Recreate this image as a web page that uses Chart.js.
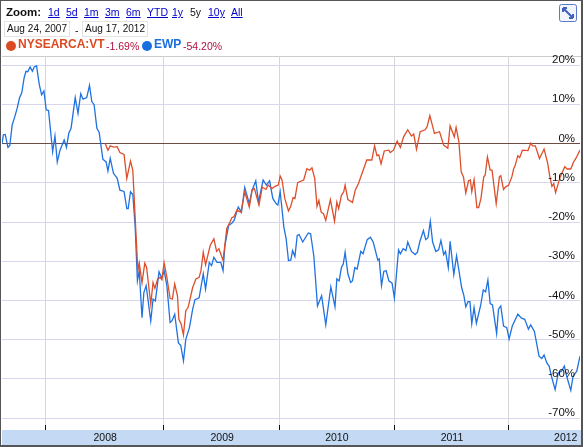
<!DOCTYPE html>
<html lang="en">
<head>
<meta charset="UTF-8">
<title>NYSEARCA:VT vs EWP</title>
<script src="https://cdn.jsdelivr.net/npm/chart.js@4"></script>
<style>
  html, body { margin:0; padding:0; background:#fff; width:584px; height:447px; overflow:hidden; }
  body { position:relative; font-family:"Liberation Sans", Arial, sans-serif; color:#111; }
  #frame { position:absolute; left:0; top:0; width:580px; height:444px; border:solid #555; border-width:1px 2px 2px 1px; }
  #topline { position:absolute; left:2px; top:56px; width:579px; height:1px; background:#ccc; }
  #band { position:absolute; left:2px; top:430px; width:579px; height:15px; background:#c4d9f3; }
  #rocCanvas { position:absolute; left:0; top:0; }
  .t { position:absolute; white-space:nowrap; line-height:1; }
  .z { top:7px; font-size:10.5px; color:#00c; text-decoration:underline; }
  .box { top:21px; width:61px; height:14px; border:1px solid #e4e4e4; font-size:10px; line-height:14px; padding:0 1px 0 2px; letter-spacing:.05px; }
  .dot { position:absolute; width:10px; height:10px; border-radius:50%; top:41px; }
  .nm { top:38px; font-size:12px; font-weight:bold; }
  .ch { top:41px; font-size:10.5px; color:#b0103c; }
  svg { position:absolute; left:559px; top:4px; }
</style>
</head>
<body>
<div id="frame"></div>
<div id="topline"></div>
<div id="band"></div>
<canvas id="rocCanvas" width="584" height="447"></canvas>

<span class="t" style="left:6px;top:7px;font-size:11.5px;font-weight:bold">Zoom:</span>
<span class="t z" style="left:48px">1d</span>
<span class="t z" style="left:66px">5d</span>
<span class="t z" style="left:84px">1m</span>
<span class="t z" style="left:105px">3m</span>
<span class="t z" style="left:126px">6m</span>
<span class="t z" style="left:147px">YTD</span>
<span class="t z" style="left:172px">1y</span>
<span class="t z" style="left:190px;color:#111;text-decoration:none">5y</span>
<span class="t z" style="left:208px">10y</span>
<span class="t z" style="left:231px">All</span>
<span class="t box" style="left:4px">Aug 24, 2007</span>
<span class="t" style="left:75px;top:25px;font-size:10.5px">-</span>
<span class="t box" style="left:82px">Aug 17, 2012</span>
<span class="dot" style="left:6px;background:#dc4a22"></span>
<span class="t nm" style="left:18px;color:#dc4a22">NYSEARCA:VT</span>
<span class="t ch" style="left:106px">-1.69%</span>
<span class="dot" style="left:142px;background:#1a6fe0"></span>
<span class="t nm" style="left:154px;color:#1a6fe0">EWP</span>
<span class="t ch" style="left:183px">-54.20%</span>
<svg width="18" height="18" viewBox="0 0 18 18">
  <rect x="0.5" y="0.5" width="17" height="17" rx="2" fill="#f2f5fc" stroke="#5a78cc"/>
  <path d="M4 4 L14 14 M4 4 h4 M4 4 v4 M14 14 h-4 M14 14 v-4" stroke="#3f62bd" stroke-width="2" fill="none"/>
</svg>

<script>
const vtDays = [224,230,235,243,250,256,265,271,279,284,290,295,298,304,310,314,323,328,332,338,343,347,352,358,365,370,375,381,384,389,394,399,404,414,421,428,432,437,442,452,460,466,471,480,488,495,499,504,510,519,527,537,543,548,558,565,573,578,586,593,600,604,608,614,622,627,632,636,642,655,662,668,673,679,684,688,693,698,703,713,722,727,731,737,742,745,751,761,767,774,782,792,803,809,814,818,823,830,840,843,850,858,865,872,881,889,894,900,908,919,923,929,939,950,959,968,973,982,986,992,997,1002,1007,1013,1017,1020,1025,1031,1035,1040,1046,1049,1054,1060,1064,1073,1080,1083,1089,1093,1100,1107,1111,1114,1120,1124,1130,1142,1148,1152,1158,1167,1177,1185,1189,1194,1198,1202,1212,1222,1227,1235,1241,1246,1255];
const vtValues = [0,-1.7,-0.6,-0.9,-0.8,-2.3,-2.8,-8.9,-4.5,-6.8,-20.9,-32.4,-30.4,-35.5,-30.5,-31.6,-40.9,-35.4,-36.9,-34.5,-34.1,-34.7,-30.4,-34.1,-39.5,-39.6,-35.8,-38.8,-44.8,-46,-48.8,-42.6,-41.8,-36.7,-34.5,-34.1,-32.4,-27.7,-30.9,-26,-24.3,-27.5,-26.8,-29.8,-21.7,-20,-18.9,-18.6,-17,-17.5,-12.3,-16.2,-11.9,-11.5,-15.7,-11.1,-11.7,-10.6,-11.5,-10.9,-10.6,-8.3,-9.3,-14,-17.2,-16,-13.8,-14,-10,-9.3,-6.4,-6.8,-6.2,-8.9,-16,-14.5,-17.5,-17.9,-19.6,-14.3,-19.8,-14.9,-16.6,-13.2,-12.3,-10.6,-14.3,-15,-11.9,-10.2,-7.5,-4.2,-4.2,-0.6,-3.1,-2.9,-5.2,-1.9,-1.7,-2.3,-1.7,0.6,-1,1.7,3.5,1.9,2.4,-1.5,3,3.5,4.3,7.1,2.6,3,-0.4,-1.2,4.5,1.7,4.1,0.5,-7.2,-8.5,-12.6,-9.5,-9.3,-12.3,-9.2,-16.3,-16.3,-14,-8.5,-8.1,-3.4,-6.8,-6.8,-15.3,-8.5,-8.2,-11.7,-11.1,-10.6,-8.5,-6.4,-5.7,-3.1,-3.6,-1.7,-1.8,0.1,-0.6,-0.6,-3.8,-1.4,-5.1,-8.1,-10.9,-10.2,-12.5,-8.5,-5.9,-6.5,-6.5,-4.7,-3.8,-1.69];
const ewpDays = [0,3,7,13,17,22,28,33,38,43,48,52,56,61,66,70,75,81,86,91,96,101,110,115,120,126,135,140,145,150,159,165,171,176,184,190,195,200,206,211,219,226,230,235,242,250,256,265,271,274,279,284,289,294,298,304,308,313,323,328,333,341,347,352,358,365,369,375,383,388,394,399,407,414,419,428,437,442,450,455,460,467,475,480,484,492,499,504,513,520,527,537,543,551,557,567,574,581,588,595,599,604,612,617,622,627,631,636,641,645,653,665,670,677,685,694,703,714,723,727,732,737,741,745,751,757,761,766,771,779,784,793,800,806,816,819,824,829,834,840,847,852,861,865,871,877,881,889,897,902,907,915,920,925,930,935,942,948,953,959,963,969,973,981,987,998,1003,1007,1012,1016,1020,1025,1030,1039,1045,1050,1055,1060,1065,1074,1078,1083,1089,1096,1101,1108,1120,1128,1135,1143,1148,1156,1166,1172,1177,1183,1188,1193,1201,1208,1215,1221,1227,1235,1240,1248,1255];
const ewpValues = [0,2.2,2.3,-1,-0.5,4.7,6.9,9,11.6,12.9,16.7,18.4,18.3,19.5,18.4,19.5,19.8,15,12.4,13.4,8.6,8.4,-2.1,1.9,-4.7,-1.7,0.9,-1,2.6,3.9,11.7,7.7,12.7,11.3,11.7,14.8,10.7,9.9,3.9,2.8,-4,-4.7,-7,-3.8,-7.6,-8.8,-11.9,-12.2,-16.6,-16.6,-12.3,-13,-20.9,-35,-32.4,-44.4,-38,-36.2,-45.2,-39.6,-40.1,-32.7,-34.4,-32.4,-36.2,-45.6,-45.2,-43.5,-50.8,-51.4,-55.4,-49.9,-46.9,-42.2,-39.8,-39.3,-33.2,-37.1,-30.3,-31.1,-29,-30.3,-30.3,-32.4,-26,-20.9,-20.3,-19.6,-16.2,-17.5,-11.2,-15.3,-11.9,-9.5,-14.9,-9.3,-10.6,-9.5,-14,-15.3,-15.7,-12.3,-21.3,-24.3,-29.8,-29.7,-27.3,-28.8,-23.4,-23.2,-25.1,-22.8,-23,-28.6,-41.4,-38.8,-46.2,-36.5,-41.6,-34.5,-35,-31.6,-30.7,-27.7,-33.2,-35.4,-35,-31.6,-32,-27.5,-28.1,-24.5,-23.9,-25.1,-29.7,-29.4,-36.2,-32.6,-32.4,-35,-35.6,-39.4,-27.1,-28.1,-26.8,-27.3,-25.1,-27.5,-28.3,-27.7,-25.1,-22.2,-24.5,-24,-19.8,-25.1,-27.5,-27.1,-24.7,-28.3,-27.5,-31.6,-24.9,-33.4,-28.6,-36.7,-38.8,-41.6,-40.3,-40.3,-45.9,-41.8,-45.8,-41.4,-37.3,-37.8,-34.8,-40.8,-41.1,-48.4,-42.2,-41.4,-46.5,-46.9,-49.8,-46.5,-43.5,-44.5,-44.8,-47.3,-46.2,-47.9,-54.2,-54.8,-53.9,-55.9,-56.7,-59.3,-62.7,-58.4,-58,-56.7,-59.7,-62.9,-59.3,-58,-54.2];
const yTicks = [20,10,0,-10,-20,-30,-40,-50,-60,-70];
const yearStarts = [94,350,602,852,1099];
const yearLabels = ['2008','2009','2010','2011','2012'];
const yearLabelDays = [224,478,727,977,1224];

const toPoints = (xs, ys) => xs.map((x, i) => ({ x, y: ys[i] }));

// short black marks at the foot of each year line
const yearMarks = {
  id: 'yearMarks',
  afterDatasetsDraw(chart) {
    const { ctx, scales, chartArea } = chart;
    ctx.save();
    ctx.strokeStyle = '#111';
    ctx.lineWidth = 1;
    yearStarts.forEach(d => {
      const px = Math.round(scales.x.getPixelForValue(d)) + 0.5;
      ctx.beginPath();
      ctx.moveTo(px, chartArea.bottom - 5);
      ctx.lineTo(px, chartArea.bottom);
      ctx.stroke();
    });
    ctx.restore();
  }
};

new Chart(document.getElementById('rocCanvas'), {
  type: 'scatter',
  data: {
    datasets: [
      { label: 'NYSEARCA:VT', data: toPoints(vtDays, vtValues), showLine: true, borderColor: '#dd4e2b', borderWidth: 1.3, pointRadius: 0, tension: 0, xAxisID: 'x', yAxisID: 'y' },
      { label: 'EWP', data: toPoints(ewpDays, ewpValues), showLine: true, borderColor: '#1f72e0', borderWidth: 1.3, pointRadius: 0, tension: 0, xAxisID: 'x', yAxisID: 'y' }
    ]
  },
  plugins: [yearMarks],
  options: {
    responsive: false,
    animation: false,
    layout: { padding: { left: 2, right: 4, top: 56, bottom: 2 } },
    plugins: { legend: { display: false }, tooltip: { enabled: false } },
    scales: {
      x: {
        type: 'linear', position: 'bottom', min: 0, max: 1255,
        afterBuildTicks: s => { s.ticks = yearStarts.map(value => ({ value })); },
        afterFit: s => { s.height = 0; },
        ticks: { display: false },
        grid: { color: '#d6d6d6', lineWidth: 1, drawTicks: false },
        border: { display: false }
      },
      x2: {
        type: 'linear', position: 'bottom', min: 0, max: 1255,
        afterBuildTicks: s => { s.ticks = yearLabelDays.map(value => ({ value })); },
        afterFit: s => { s.height = 15; },
        ticks: {
          autoSkip: false, maxRotation: 0, padding: 2, color: '#111',
          font: { family: '"Liberation Sans", Arial, sans-serif', size: 10.5 },
          callback: v => yearLabels[yearLabelDays.indexOf(v)]
        },
        grid: { display: false, drawTicks: false },
        border: { display: false }
      },
      y: {
        type: 'linear', position: 'right', min: -73, max: 22.3,
        afterBuildTicks: s => { s.ticks = yTicks.map(value => ({ value })); },
        afterFit: s => { s.width = 0; },
        ticks: {
          mirror: true, z: 1, padding: -5, labelOffset: -5, color: '#111',
          font: { family: '"Liberation Sans", Arial, sans-serif', size: 11.5 },
          callback: v => v + '%'
        },
        grid: {
          color: c => c.tick && c.tick.value === 0 ? '#6e4a44' : '#d6d6ee',
          lineWidth: 1, drawTicks: false
        },
        border: { display: false }
      }
    }
  }
});
</script>
</body>
</html>
